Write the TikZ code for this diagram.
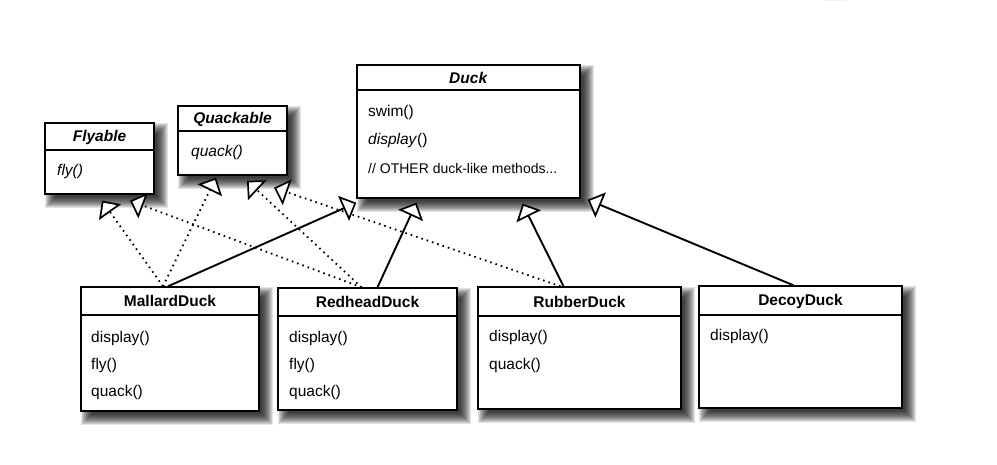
\documentclass[tikz,border=0pt]{standalone}
\usepackage{fontspec}
\setmainfont{Liberation Sans}
\usetikzlibrary{arrows.meta,calc,backgrounds}

\tikzset{
  classbox/.style={draw=black, line width=1.4pt, fill=white, inner sep=0pt},
  classname/.style={inner sep=0pt, font=\fontsize{15.5}{18}\selectfont\bfseries},
  member/.style={inner sep=0pt, anchor=west, font=\fontsize{15.5}{18}\selectfont},
  note/.style={inner sep=0pt, anchor=west, font=\fontsize{14}{16}\selectfont},
  sepline/.style={line width=1.2pt},
  hollowtip/.tip={Triangle[open, fill=white, length=14pt, width=27pt, line width=1.7pt]},
  extends/.style={line width=1.9pt, -hollowtip},
  implements/.style={line width=1.8pt, dash pattern=on 1.6pt off 4pt, -hollowtip},
  shadowlayer/.style={fill=black, opacity=0.11},
}

% soft drop shadow to the lower right of a box, built from stacked translucent layers
\newcommand\softshadow[1]{%
  \foreach \k in {-6,...,5}{%
    \fill[shadowlayer] ($(#1.north west)+(7+\k,7+\k)$) rectangle ($(#1.south east)+(7-\k,7-\k)$);}}

\begin{document}
\begin{tikzpicture}[x=1pt, y=-1pt]
\useasboundingbox (0,0) rectangle (997,465);

% faint stroke near the top edge
\draw[black!6, line width=0.8pt] (824,0.8) -- (846,0.8);

% ---- interfaces ----
\node[classbox, minimum width=109pt, minimum height=71pt] (flyable) at (99.5,158.5) {};
\draw[sepline] (flyable.west |- 0,150) -- (flyable.east |- 0,150);
\node[classname] (flyableT) at (99.5,137) {\textit{Flyable}};
\node[member] (flyableM1) at (57,171) {\textit{fly()}};

\node[classbox, minimum width=109pt, minimum height=69pt] (quackable) at (232.5,140.5) {};
\draw[sepline] (quackable.west |- 0,131) -- (quackable.east |- 0,131);
\node[classname] (quackableT) at (232.5,119) {\textit{Quackable}};
\node[member] (quackableM1) at (191,152) {\textit{quack()}};

% ---- abstract base class ----
\node[classbox, minimum width=223pt, minimum height=133pt] (duck) at (468.5,131.5) {};
\draw[sepline] (duck.west |- 0,90) -- (duck.east |- 0,90);
\node[classname] (duckT) at (468.5,78) {\textit{Duck}};
\node[member] (duckM1) at (368,112) {swim()};
\node[member] (duckM2) at (368,140) {\textit{display}()};
\node[note] (duckM3) at (368,168) {// OTHER duck-like methods...};

% ---- concrete ducks ----
\node[classbox, minimum width=178pt, minimum height=124pt] (mallard) at (170,349) {};
\draw[sepline] (mallard.west |- 0,315) -- (mallard.east |- 0,315);
\node[classname] (mallardT) at (170,301) {MallardDuck};
\node[member] (mallardM1) at (91,338) {display()};
\node[member] (mallardM2) at (91,365) {fly()};
\node[member] (mallardM3) at (91,392) {quack()};

\node[classbox, minimum width=179pt, minimum height=122pt] (redhead) at (367.5,349) {};
\draw[sepline] (redhead.west |- 0,316) -- (redhead.east |- 0,316);
\node[classname] (redheadT) at (367.5,302) {RedheadDuck};
\node[member] (redheadM1) at (289,338) {display()};
\node[member] (redheadM2) at (289,365) {fly()};
\node[member] (redheadM3) at (289,392) {quack()};

\node[classbox, minimum width=203pt, minimum height=122pt] (rubber) at (579.5,348) {};
\draw[sepline] (rubber.west |- 0,316) -- (rubber.east |- 0,316);
\node[classname] (rubberT) at (579.5,302) {RubberDuck};
\node[member] (rubberM1) at (489,337) {display()};
\node[member] (rubberM2) at (489,365) {quack()};

\node[classbox, minimum width=203pt, minimum height=122pt] (decoy) at (800.5,347) {};
\draw[sepline] (decoy.west |- 0,315) -- (decoy.east |- 0,315);
\node[classname] (decoyT) at (800.5,301) {DecoyDuck};
\node[member] (decoyM1) at (710,336) {display()};

% ---- shadows behind every box ----
\begin{scope}[on background layer]
  \foreach \b in {flyable,quackable,duck,mallard,redhead,rubber,decoy}{\softshadow{\b}}
\end{scope}

% ---- realisation of the interfaces ----
\draw[implements] ($(mallard.north)+(-7,0)$) -- ($(flyable.south)+(2.5,6)$);
\draw[implements] ($(mallard.north)+(-7,0)$) -- ($(quackable.south)+(-16.5,2)$);
\draw[implements] ($(redhead.north)+(-6,0)$) -- ($(flyable.south)+(30.5,6)$);
\draw[implements] ($(redhead.north)+(-6,0)$) -- ($(quackable.south)+(14.5,5)$);
\draw[implements] ($(rubber.north)+(-19,0)$) -- ($(quackable.south)+(41.5,12)$);

% ---- inheritance from Duck ----
\draw[extends] ($(mallard.north)+(-2,0)$) -- ($(duck.south west)+(0,4)$);
\draw[extends] ($(redhead.north)+(10,0)$) -- ($(duck.south)+(-52,4)$);
\draw[extends] ($(rubber.north)+(-16,0)$) -- ($(duck.south)+(54,5)$);
\draw[extends] ($(decoy.north)+(-7,0)$) -- ($(duck.south east)+(7,1)$);
\end{tikzpicture}
\end{document}
